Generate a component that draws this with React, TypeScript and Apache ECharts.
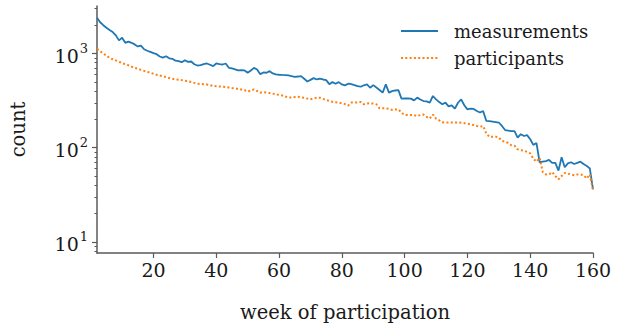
import React, { useEffect, useRef } from 'react';
import * as echarts from 'echarts';

const firstWeek = 2;

const measurements = [
  2400, 2150, 2000, 1880, 1780, 1690, 1560, 1380, 1470, 1300,
  1340, 1300, 1250, 1190, 1215, 1110, 1070, 1040, 1010, 985,
  930, 905, 936, 890, 880, 840, 829, 809, 849, 815,
  823, 770, 746, 752, 770, 784, 760, 734, 784, 770,
  765, 784, 705, 695, 680, 661, 665, 661, 625, 661,
  705, 677, 604, 630, 625, 650, 615, 600, 595, 592,
  590, 585, 575, 566, 570, 575, 540, 505, 525, 548,
  530, 540, 530, 522, 473, 497, 478, 497, 470, 459,
  478, 472, 462, 450, 444, 460, 470, 433, 462, 435,
  410, 384, 470, 384, 399, 405, 409, 332, 334, 333,
  332, 318, 340, 325, 313, 310, 301, 354, 326, 305,
  289, 301, 275, 282, 260, 300, 326, 282, 255, 260,
  258, 245, 236, 245, 193, 191, 189, 187, 185, 170,
  154, 152, 150, 150, 128, 139, 133, 136, 123, 107,
  112, 70, 71, 72, 74, 69, 69, 57, 79, 62,
  68, 70, 67, 69, 71, 67, 64, 60, 36,
];

const participants = [
  1120, 1060, 1000, 950, 900, 870, 845, 820, 790, 770,
  750, 725, 705, 690, 670, 655, 640, 625, 610, 595,
  585, 572, 562, 550, 540, 531, 528, 522, 515, 509,
  498, 488, 478, 475, 472, 470, 462, 453, 450, 447,
  444, 440, 435, 430, 426, 420, 415, 409, 393, 405,
  416, 400, 384, 390, 385, 380, 375, 370, 363, 359,
  350, 340, 342, 345, 348, 342, 338, 332, 326, 334,
  340, 340, 330, 321, 314, 307, 304, 301, 296, 290,
  280, 301, 301, 303, 306, 289, 295, 296, 294, 289,
  262, 262, 262, 258, 252, 254, 255, 236, 222, 222,
  222, 222, 217, 222, 225, 212, 204, 225, 204, 195,
  186, 185, 185, 185, 185, 185, 184, 182, 180, 177,
  174, 170, 167, 170, 142, 130, 131, 131, 128, 118,
  116, 112, 106, 105, 96, 94, 93, 90, 87, 76,
  71, 78, 55, 52, 52, 55, 50, 46, 50, 54,
  53, 52, 51, 52, 52, 51, 47, 52, 35,
];

const seriesNames = ['measurements', 'participants'];
const xTicks = [20, 40, 60, 80, 100, 120, 140, 160];
const yMajorTicks = [10, 100, 1000];
const yMinorTicks = [8, 9, 20, 30, 40, 50, 60, 70, 80, 90, 200, 300, 400, 500, 600, 700, 800, 900, 2000, 3000];

const FONT = 'DejaVu Serif';
const AXIS_COLOR = '#5a5a5a';
const TEXT_COLOR = '#1a1a1a';
const TICK_SIZE = 19;
const TITLE_SIZE = 19.5;
const LEGEND_SIZE = 18;

export default function App() {
  const ref = useRef<HTMLDivElement>(null);
  useEffect(() => {
    const chart = echarts.init(ref.current as HTMLDivElement, null, { renderer: 'svg' });
    const toPairs = (arr: number[]) => arr.map((v, i) => [firstWeek + i, v]);
    const yBase = {
      type: 'log',
      logBase: 10,
      min: 7.6,
      max: 3200,
      splitLine: { show: false },
    };
    chart.setOption({
      animation: false,
      textStyle: { fontFamily: FONT },
      grid: { left: 96, right: 31, top: 6, bottom: 73, containLabel: false },
      legend: {
        data: seriesNames,
        orient: 'vertical',
        left: 400,
        top: 22,
        padding: 0,
        itemWidth: 37,
        itemHeight: 14,
        itemGap: 9,
        itemStyle: { opacity: 0, borderWidth: 0 },
        textStyle: { fontFamily: FONT, fontSize: LEGEND_SIZE, lineHeight: 18, color: TEXT_COLOR, padding: [0, 0, 0, 11] },
      },
      xAxis: {
        type: 'value',
        min: 2,
        max: 160,
        splitLine: { show: false },
        axisLine: { lineStyle: { color: AXIS_COLOR, width: 1.5 } },
        axisTick: { customValues: xTicks, length: 5, lineStyle: { color: AXIS_COLOR, width: 1.2 } },
        axisLabel: { customValues: xTicks, margin: 7, fontFamily: FONT, fontSize: TICK_SIZE, color: TEXT_COLOR },
        name: 'week of participation',
        nameLocation: 'middle',
        nameGap: 49,
        nameTextStyle: { fontFamily: FONT, fontSize: TITLE_SIZE, color: TEXT_COLOR },
      },
      yAxis: [
        {
          ...yBase,
          axisLine: { show: true, lineStyle: { color: AXIS_COLOR, width: 1.5 } },
          axisTick: { show: true, customValues: yMajorTicks, length: 5, lineStyle: { color: AXIS_COLOR, width: 1.2 } },
          axisLabel: {
            customValues: yMajorTicks,
            margin: 9,
            formatter: (v: number) => `{b|10}{s|${Math.round(Math.log10(v))}}`,
            rich: {
              b: { fontFamily: FONT, fontSize: TICK_SIZE, color: TEXT_COLOR, lineHeight: 24, verticalAlign: 'bottom' },
              s: { fontFamily: FONT, fontSize: 13, color: TEXT_COLOR, lineHeight: 24, verticalAlign: 'top', padding: [0, 0, 7, 1] },
            },
          },
          name: 'count',
          nameLocation: 'middle',
          nameGap: 69,
          nameTextStyle: { fontFamily: FONT, fontSize: TITLE_SIZE, color: TEXT_COLOR },
        },
        {
          ...yBase,
          position: 'left',
          axisLine: { show: false },
          axisTick: { show: true, customValues: yMinorTicks, length: 2.5, lineStyle: { color: AXIS_COLOR, width: 1 } },
          axisLabel: { show: false },
        },
      ],
      series: [
        {
          name: seriesNames[0],
          type: 'line',
          data: toPairs(measurements),
          showSymbol: false,
          symbol: 'none',
          itemStyle: { color: '#1f77b4' },
          lineStyle: { color: '#1f77b4', width: 1.8 },
        },
        {
          name: seriesNames[1],
          type: 'line',
          data: toPairs(participants),
          showSymbol: false,
          symbol: 'none',
          itemStyle: { color: '#ff7f0e' },
          lineStyle: { color: '#ff7f0e', width: 2, type: [2, 2.3], cap: 'butt' },
        },
      ],
    });
    return () => chart.dispose();
  }, []);
  return <div ref={ref} style={{ width: 624, height: 327, position: 'absolute', left: 0, top: 0 }} />;
}
